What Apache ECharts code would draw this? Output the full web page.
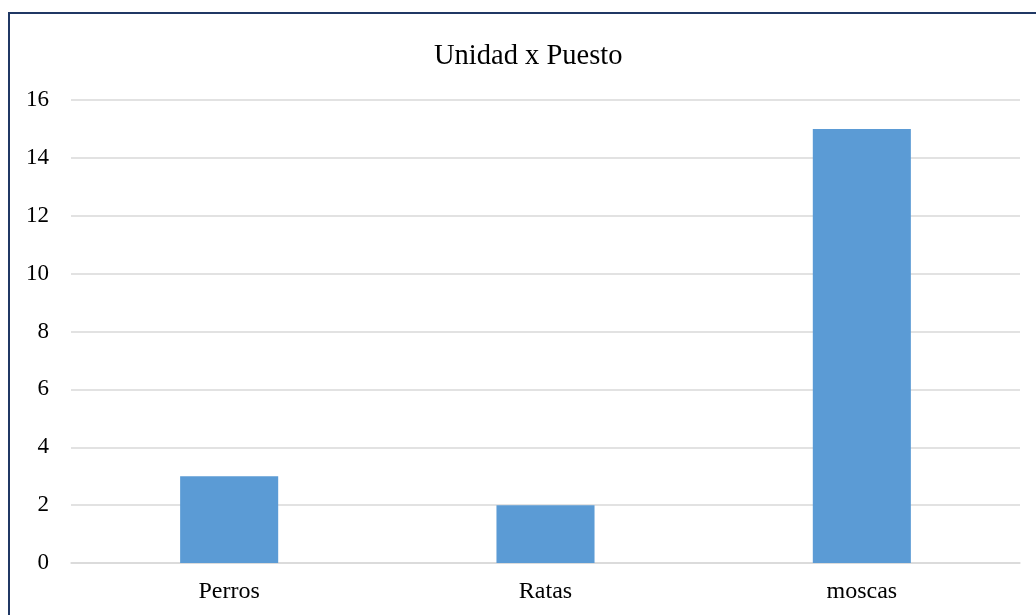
<!DOCTYPE html>
<html>
<head>
<meta charset="utf-8">
<script src="https://cdn.jsdelivr.net/npm/echarts@6/dist/echarts.min.js"></script>
<style>
html,body{margin:0;padding:0;background:#fff;overflow:hidden;}
#frame{position:absolute;left:8px;top:12px;width:1100px;height:700px;border:2px solid #203864;box-sizing:border-box;}
#chart{position:absolute;left:0;top:0;width:1036px;height:615px;}
</style>
</head>
<body>
<div id="frame"></div>
<div id="chart"></div>
<script>
var categories = ['Perros', 'Ratas', 'moscas'];
var values = [3, 2, 15];
var titleText = 'Unidad x Puesto';

var chart = echarts.init(document.getElementById('chart'));
chart.setOption({
  backgroundColor: 'transparent',
  animation: false,
  title: {
    text: titleText,
    left: 429,
    top: 37,
    textStyle: {fontFamily: 'Liberation Serif', fontSize: 28.5, fontWeight: 'normal', color: '#000'}
  },
  grid: {left: 71, right: 16, top: 100, bottom: 52},
  xAxis: {
    type: 'category',
    data: categories,
    axisLine: {lineStyle: {color: '#d9d9d9', width: 1.5}},
    axisTick: {show: false},
    axisLabel: {fontFamily: 'Liberation Serif', fontSize: 24, color: '#000', margin: 17}
  },
  yAxis: {
    type: 'value',
    min: 0, max: 16, interval: 2,
    axisLine: {show: false},
    axisTick: {show: false},
    splitLine: {lineStyle: {color: '#d9d9d9', width: 1.5}},
    axisLabel: {fontFamily: 'Liberation Serif', fontSize: 23, color: '#000', margin: 22}
  },
  series: [{
    type: 'bar',
    data: values,
    barWidth: '31%',
    itemStyle: {color: '#5b9bd5'}
  }]
});
</script>
</body>
</html>
